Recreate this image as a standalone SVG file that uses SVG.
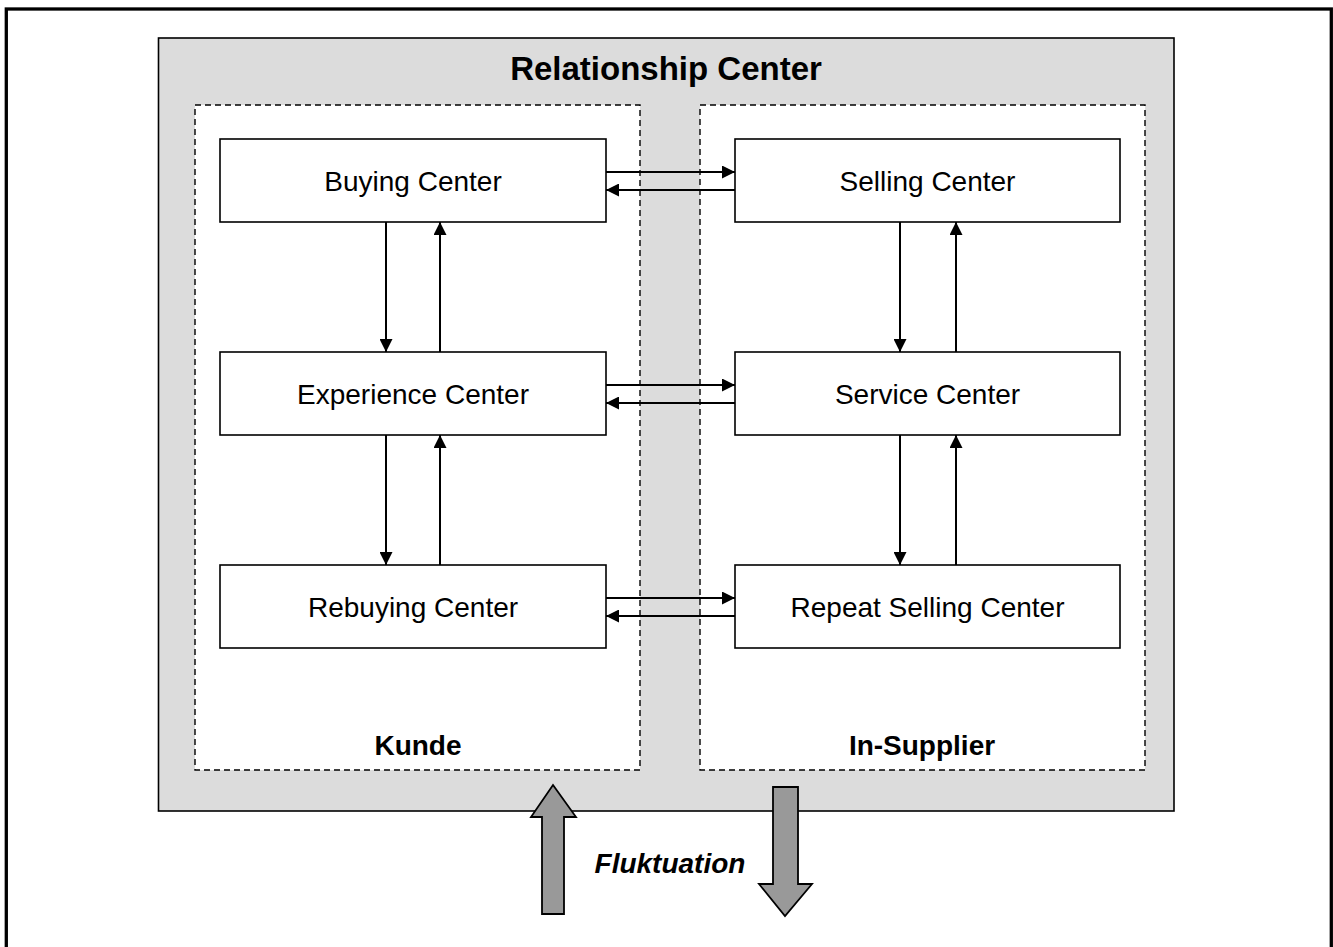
<svg xmlns="http://www.w3.org/2000/svg" width="1333" height="947" viewBox="0 0 1333 947">
<defs>
<style>
.node rect{fill:#fff;stroke:#000;stroke-width:1.6}
.node text{font-family:"Liberation Sans",Arial,sans-serif;font-size:28px;text-anchor:middle;fill:#000}
.lbl{font-family:"Liberation Sans",Arial,sans-serif;font-size:28px;font-weight:bold;text-anchor:middle;fill:#000}
.dash{fill:#fff;stroke:#000;stroke-width:1.4;stroke-dasharray:6,4}
.conn line{stroke:#000;stroke-width:2}
.big{fill:#999;stroke:#000;stroke-width:1.8;stroke-linejoin:miter}
</style>
<marker id="ah" viewBox="0 0 13 13" refX="13" refY="6.5" markerWidth="13" markerHeight="13" markerUnits="userSpaceOnUse" orient="auto">
<path d="M0,0 L13,6.5 L0,13 Z" fill="#000"/>
</marker>
</defs>
<rect x="6.3" y="9" width="1325" height="960" fill="#fff" stroke="#000" stroke-width="3.3"/>
<g id="relationship-center">
<rect x="158.5" y="38" width="1015.5" height="773" fill="#dcdcdc" stroke="#000" stroke-width="1.6"/>
<text x="666" y="80" class="lbl" style="font-size:33px">Relationship Center</text>
</g>
<g id="kunde">
<rect x="195" y="105" width="445" height="665" class="dash"/>
<text x="418" y="755" class="lbl">Kunde</text>
</g>
<g id="in-supplier">
<rect x="700" y="105" width="445" height="665" class="dash"/>
<text x="922" y="755" class="lbl">In-Supplier</text>
</g>
<g id="buying" class="node"><rect x="220" y="139" width="386" height="83"/><text x="413" y="191">Buying Center</text></g>
<g id="experience" class="node"><rect x="220" y="352" width="386" height="83"/><text x="413" y="404">Experience Center</text></g>
<g id="rebuying" class="node"><rect x="220" y="565" width="386" height="83"/><text x="413" y="617">Rebuying Center</text></g>
<g id="selling" class="node"><rect x="735" y="139" width="385" height="83"/><text x="927.5" y="191">Selling Center</text></g>
<g id="service" class="node"><rect x="735" y="352" width="385" height="83"/><text x="927.5" y="404">Service Center</text></g>
<g id="repeat" class="node"><rect x="735" y="565" width="385" height="83"/><text x="927.5" y="617">Repeat Selling Center</text></g>
<g id="connectors" class="conn">
<line x1="606" y1="172" x2="735" y2="172" marker-end="url(#ah)"/>
<line x1="735" y1="190" x2="606" y2="190" marker-end="url(#ah)"/>
<line x1="606" y1="385" x2="735" y2="385" marker-end="url(#ah)"/>
<line x1="735" y1="403" x2="606" y2="403" marker-end="url(#ah)"/>
<line x1="606" y1="598" x2="735" y2="598" marker-end="url(#ah)"/>
<line x1="735" y1="616" x2="606" y2="616" marker-end="url(#ah)"/>
<line x1="386" y1="222" x2="386" y2="352" marker-end="url(#ah)"/>
<line x1="440" y1="352" x2="440" y2="222" marker-end="url(#ah)"/>
<line x1="386" y1="435" x2="386" y2="565" marker-end="url(#ah)"/>
<line x1="440" y1="565" x2="440" y2="435" marker-end="url(#ah)"/>
<line x1="900" y1="222" x2="900" y2="352" marker-end="url(#ah)"/>
<line x1="956" y1="352" x2="956" y2="222" marker-end="url(#ah)"/>
<line x1="900" y1="435" x2="900" y2="565" marker-end="url(#ah)"/>
<line x1="956" y1="565" x2="956" y2="435" marker-end="url(#ah)"/>
</g>
<g id="fluktuation">
<path class="big" d="M553,785 L576,817 L564,817 L564,914 L542,914 L542,817 L531,817 Z"/>
<path class="big" d="M773,787 L798,787 L798,884 L812,884 L785,916 L759,884 L773,884 Z"/>
<text x="670" y="873" class="lbl" style="font-style:italic">Fluktuation</text>
</g>
</svg>
